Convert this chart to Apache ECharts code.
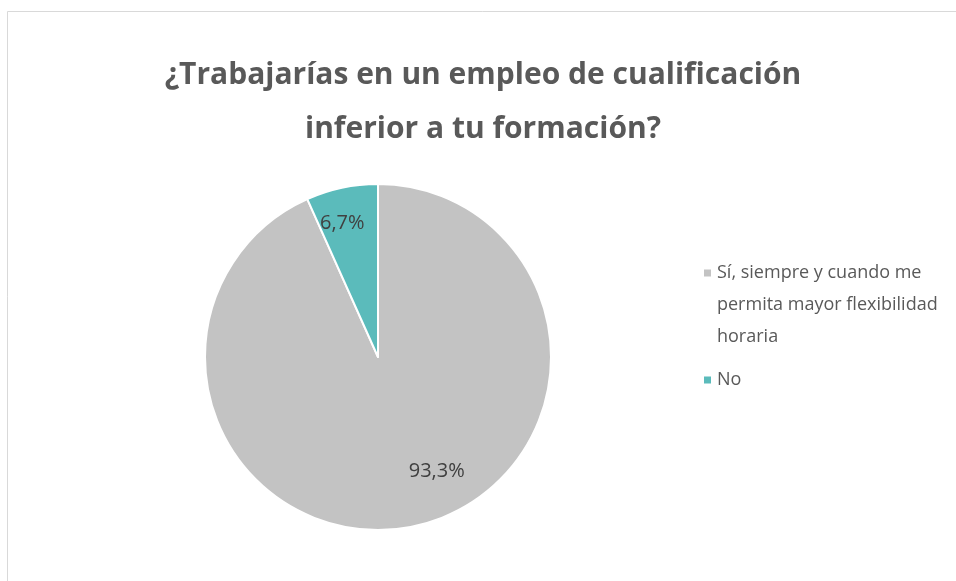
<!DOCTYPE html>
<html>
<head>
<meta charset="utf-8">
<script src="https://cdn.jsdelivr.net/npm/echarts@6/dist/echarts.min.js"></script>
<style>
  html, body { margin: 0; padding: 0; background: #fff; }
  #chart { width: 956px; height: 581px; }
</style>
</head>
<body>
<div id="chart"></div>
<script>
var titleText = '¿Trabajarías en un empleo de cualificación\ninferior a tu formación?';
var categories = ['Sí, siempre y cuando me permita mayor flexibilidad horaria', 'No'];
var values = [93.3, 6.7];
var colors = ['#c3c3c3', '#5bbbbb'];
// label nudges so the labels sit where Excel's "best fit" puts them
var labelOffsets = [[40, 27], [-17, -46]];

var myChart = echarts.init(document.getElementById('chart'));

var pieData = categories.map(function (name, i) {
    return {
        name: name,
        value: values[i],
        itemStyle: { color: colors[i] },
        label: { offset: labelOffsets[i] }
    };
});

var option = {
    backgroundColor: '#fff',
    animation: false,
    graphic: [{
        type: 'rect',
        shape: { x: 7.5, y: 11.5, width: 1000, height: 700 },
        style: { fill: 'none', stroke: '#d9d9d9', lineWidth: 1 },
        silent: true
    }],
    title: {
        text: titleText,
        left: 478,
        textAlign: 'center',
        top: 43,
        textStyle: {
            fontFamily: 'Open Sans',
            fontWeight: 'bold',
            fontSize: 30,
            lineHeight: 54,
            color: '#595959'
        }
    },
    legend: {
        orient: 'vertical',
        left: 702,
        top: 193,
        padding: 0,
        itemWidth: 9,
        itemHeight: 9,
        itemGap: 11,
        icon: 'rect',
        // two blank lines on top of the wrapped entry so the marker sits on its first line
        formatter: function (name) {
            return name.length > 30 ? '\n\n' + name : name;
        },
        textStyle: {
            fontFamily: 'Open Sans',
            fontSize: 18,
            lineHeight: 32,
            color: '#595959',
            width: 235,
            overflow: 'break'
        },
        data: categories
    },
    series: [{
        type: 'pie',
        center: [378, 357],
        radius: [0, 173],
        startAngle: 90,
        clockwise: true,
        itemStyle: { borderColor: '#fff', borderWidth: 2 },
        label: {
            position: 'inside',
            fontFamily: 'Open Sans',
            fontSize: 20,
            color: '#404040',
            formatter: function (p) {
                return p.value.toFixed(1).replace('.', ',') + '%';
            }
        },
        labelLine: { show: false },
        emphasis: { disabled: true },
        data: pieData
    }]
};

option && myChart.setOption(option);
</script>
</body>
</html>
